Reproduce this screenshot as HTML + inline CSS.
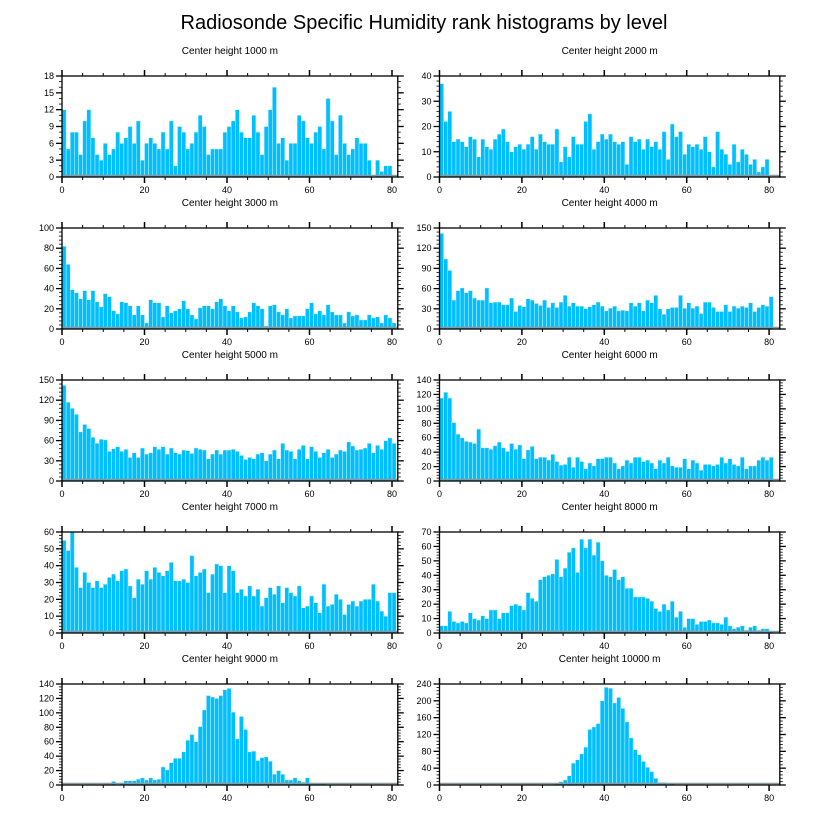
<!DOCTYPE html>
<html><head><meta charset="utf-8"><style>
body{margin:0;background:#fff;width:816px;height:824px;overflow:hidden}
svg{display:block;font-family:"Liberation Sans",sans-serif}
</style></head><body>
<svg id="chart" width="816" height="824" viewBox="0 0 816 824">
<text x="424" y="29" font-size="20" text-anchor="middle">Radiosonde Specific Humidity rank histograms by level</text>
</svg>
<script>
const titles=["Center height 1000 m","Center height 2000 m","Center height 3000 m","Center height 4000 m","Center height 5000 m","Center height 6000 m","Center height 7000 m","Center height 8000 m","Center height 9000 m","Center height 10000 m"];
const yMaxes=[18,40,100,150,150,140,60,70,140,240];
const yStepList=[3,10,20,30,30,20,10,10,20,40];
const xTicks=[0,20,40,60,80];
const h1000=[12,5,8,8,4,10,12,7,4,3,6,4,5,8,6,7,9,6,10,3,6,7,6,5,8,5,10,2,9,8,5,6,8,11,9,4,5,5,5,8,9,10,12,8,7,7,11,8,4,9,12,16,6,7,3,6,6,11,10,7,6,8,9,5,14,10,4,11,6,4,5,7,6,6,3,0,3,1,2,2];
const h2000=[37,22,26,14,15,14,12,16,15,8,15,12,11,15,17,19,14,10,12,13,11,13,16,11,17,14,13,13,19,6,12,8,16,13,13,22,25,11,14,17,15,17,14,13,14,5,16,14,15,11,15,12,14,11,18,7,21,16,18,9,13,12,13,11,16,10,4,18,11,9,5,13,6,11,9,5,7,2,4,7];
const h3000=[82,64,39,36,30,38,29,38,27,22,35,32,18,15,27,26,23,14,23,14,6,29,26,26,12,23,16,18,20,28,20,14,10,21,23,23,20,27,30,23,18,23,17,11,12,17,26,23,20,3,23,24,17,14,20,11,13,13,13,20,26,15,18,14,24,17,14,14,6,17,13,14,9,9,14,11,12,6,14,11,6];
const h4000=[142,104,87,43,57,61,54,57,46,43,43,61,39,40,40,36,36,46,26,35,33,45,43,38,35,43,32,39,32,40,50,34,39,34,34,30,33,36,40,34,27,31,34,27,28,27,39,34,39,27,43,39,50,30,22,30,32,32,50,31,39,31,34,23,40,40,32,26,26,36,26,34,31,34,32,39,26,32,36,34,48];
const h5000=[142,117,108,99,73,84,78,65,56,62,61,44,48,51,44,47,35,42,35,49,40,42,51,47,51,40,49,42,40,46,45,41,49,47,46,33,40,46,40,46,46,47,44,38,32,35,33,40,42,30,40,46,33,56,46,44,33,47,53,33,51,44,35,42,47,35,40,46,44,58,52,46,47,49,56,42,53,47,60,64,56];
const h6000=[115,123,115,81,65,60,55,54,52,72,46,46,44,49,54,46,41,52,44,50,31,43,48,31,33,33,29,37,27,22,23,33,19,33,27,17,25,21,31,31,33,33,25,17,21,29,25,33,33,27,29,25,17,29,25,33,21,19,19,31,17,29,25,15,23,23,21,23,33,25,31,23,21,33,17,21,21,29,33,29,33];
const h7000=[55,49,60,39,27,36,30,27,31,27,29,33,35,31,37,38,28,21,32,29,37,32,39,36,34,37,42,31,31,32,30,46,34,36,38,24,35,41,40,24,40,37,24,26,22,28,22,26,16,21,27,23,28,18,27,24,22,28,15,16,22,18,12,29,16,17,23,20,11,17,19,16,19,20,20,29,19,13,10,24,24];
const h8000=[5,5,15,8,7,8,7,14,10,9,12,10,16,16,10,14,14,19,20,19,16,28,24,22,37,39,40,41,51,39,45,56,59,42,65,59,65,54,63,50,40,39,44,37,39,31,31,25,25,25,24,22,17,15,20,16,22,11,15,4,10,10,6,8,8,9,7,7,6,11,5,3,4,5,2,4,5,2,3,3,1];
const h9000=[0,0,0,0,0,0,0,1,0,1,1,1,5,0,3,6,6,6,8,10,7,10,7,8,25,21,31,37,37,46,62,70,60,81,104,124,122,120,124,132,134,101,64,95,77,46,47,34,38,39,33,15,20,15,7,7,10,6,4,10,2,2,2,2,0,1,0,0,0,0,0,0,0,0,0,0,0,0,0,0];
const h10000=[0,0,0,0,0,0,0,0,0,0,0,0,0,0,0,0,0,0,0,0,0,0,0,0,0,0,0,2,5,8,12,22,52,60,74,90,132,138,146,200,232,230,195,208,182,150,112,84,72,56,42,32,16,6,6,2,3,1,0,0,0,0,0,0,0,0,0,0,0,0,0,0,0,0,0,0,0,0,0,0];
const series=[h1000,h2000,h3000,h4000,h5000,h6000,h7000,h8000,h9000,h10000];

const NS="http://www.w3.org/2000/svg";
const svg=document.getElementById('chart');
function mk(tag,attrs,parent){const e=document.createElementNS(NS,tag);for(const k in attrs)e.setAttribute(k,attrs[k]);parent.appendChild(e);return e;}
const colX=[{x0:62,ppu:4.125,xmax:81.4},{x0:439.5,ppu:4.12,xmax:82.6}];
for(let p=0;p<10;p++){
  const col=p%2,row=Math.floor(p/2);
  const c=colX[col];
  const top=76+152*row,H=101,bottom=top+H;
  const left=c.x0,right=c.x0+c.xmax*c.ppu;
  const xs=v=>left+v*c.ppu;
  const ys=v=>bottom-v/yMaxes[p]*H;
  const g=mk('g',{},svg);
  
  
  const t=mk('text',{x:(left+right)/2,y:top-22,'font-size':10,'text-anchor':'middle'},g);
  t.textContent=titles[p];
  
  
  const vals=series[p];
  for(let i=0;i<vals.length;i++){
    if(vals[i]<=0)continue;
    const r=mk('rect',{x:xs(i),y:ys(vals[i]),width:c.ppu,height:bottom-ys(vals[i]),fill:'#00bfff',stroke:'#cdf3ff','stroke-width':0.5},g);
    
    
  }
  const bl=mk('line',{x1:left,x2:right,y1:bottom-1.5,y2:bottom-1.5,stroke:'#8a9aa0','stroke-width':1.5},g);
  
  
  const fr=mk('rect',{x:left,y:top,width:right-left,height:H,fill:'none',stroke:'#000','stroke-width':1.3},g);
  
  
  for(let v=0;v<=80;v+=5){
    const major=v%20===0,L=major?6:3;
    mk('line',{x1:xs(v),x2:xs(v),y1:bottom,y2:bottom+L,stroke:'#000','stroke-width':major?1.5:1},g);
    mk('line',{x1:xs(v),x2:xs(v),y1:top,y2:top-L,stroke:'#000','stroke-width':major?1.5:1},g);
  }
  xTicks.forEach(v=>{
    const tl=mk('text',{x:xs(v),y:bottom+16,'font-size':9,'text-anchor':'middle'},g);
    tl.textContent=v;
    
    
  });
  const st=yStepList[p],minor=st/5>=1&&Number.isInteger(st/5)?st/5:st/3;
  for(let v=0;v<=yMaxes[p]+1e-9;v+=minor){
    const isMaj=Math.abs(v/st-Math.round(v/st))<1e-6,L=isMaj?6:3;
    mk('line',{x1:left,x2:left-L,y1:ys(v),y2:ys(v),stroke:'#000','stroke-width':isMaj?1.3:0.8},g);
    mk('line',{x1:right,x2:right+L,y1:ys(v),y2:ys(v),stroke:'#000','stroke-width':isMaj?1.3:0.8},g);
  }
  for(let v=0;v<=yMaxes[p];v+=st){
    const yl=mk('text',{x:left-8,y:ys(v)+3,'font-size':9,'text-anchor':'end'},g);
    yl.textContent=v;
    
    
  }
}
</script>
</body></html>
